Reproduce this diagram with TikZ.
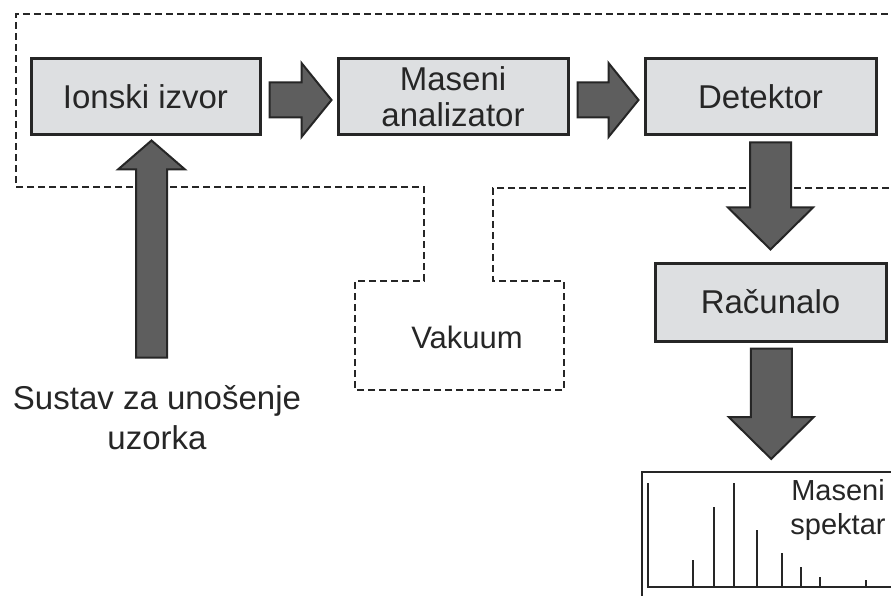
\documentclass[tikz,border=0pt]{standalone}
\usepackage{fontspec}
\setmainfont{Liberation Sans}
\usetikzlibrary{calc}

\definecolor{boxgray}{HTML}{DDDFE1}
\definecolor{arrowgray}{HTML}{5E5E5E}
\definecolor{linegray}{HTML}{262626}

\tikzset{
  unitbox/.style={draw=linegray, line width=3pt, fill=boxgray, minimum width=230pt,
    minimum height=76pt, inner sep=0pt, font=\fontsize{33}{36}\selectfont,
    align=center, text=linegray},
  blockarrow/.style={draw=linegray, line width=2pt, fill=arrowgray, line join=miter},
  vacline/.style={draw=linegray, line width=1.6pt, dash pattern=on 7pt off 4pt},
  peak/.style={draw=linegray, line width=1.4pt}
}

\begin{document}
\begin{tikzpicture}[x=1pt,y=-1pt]
    \useasboundingbox[fill=white] (0,0) rectangle (891,596);

    % vacuum outline
    \draw[vacline] (900,188) -- (493,188) -- (493,281) -- (564,281) -- (564,390)
      -- (355,390) -- (355,281) -- (424,281) -- (424,187) -- (16,187) -- (16,14) -- (900,14);

    \node[unitbox, minimum width=229pt] (ion) at (145.5,97) {Ionski izvor};
    \node[unitbox] (mas) at (453,97) {Maseni\\analizator};
    \node[unitbox, minimum width=231pt] (det) at (760.5,97) {Detektor};
    \node[unitbox, minimum width=231pt, minimum height=78pt] (rac) at (770.5,302) {Računalo};

    \node[draw=linegray, line width=1.5pt, fill=white, minimum width=259pt,
      minimum height=150pt, anchor=north west] (spec) at (641,471) {};
    \node[font=\fontsize{29}{34}\selectfont, align=center, text=linegray] (spectxt) at (838,510) {Maseni\\spektar};

    \node[font=\fontsize{31}{36}\selectfont, text=linegray] (vac) at (467,337) {Vakuum};
    \node[font=\fontsize{33}{40}\selectfont, align=center, text=linegray, inner sep=0pt]
      (sample) at (157,418) {Sustav za unošenje\\uzorka};

    % spectrum
    \draw[linegray, line width=2.6pt] (648,483) -- (648,587) -- (900,587);
    \foreach \x/\h in {693/560, 714/507, 734/483, 757/530, 782/553, 801/567, 820/577, 866/580}
      \draw[peak] (\x,587) -- (\x,\h);

    % arrows
    \draw[blockarrow] let \p1=(sample.north), \p2=(ion.south) in
      (\x2-9.5pt,\y1+28pt) -- (\x2-9.5pt,\y2-33pt) -- (\x2-27.5pt,\y2-33pt) -- (\x2+6pt,\y2-4pt)
      -- (\x2+39.5pt,\y2-33pt) -- (\x2+21.5pt,\y2-33pt) -- (\x2+21.5pt,\y1+28pt) -- cycle;

    \foreach \a/\b in {ion/mas, mas/det}
      \draw[blockarrow] let \p1=(\a.east), \p2=(\b.west) in
        (\x1+8pt,\y1+14.5pt) -- (\x2-35pt,\y1+14.5pt) -- (\x2-35pt,\y1+34pt) -- (\x2-5pt,\y1-3pt)
        -- (\x2-35pt,\y1-40pt) -- (\x2-35pt,\y1-20.5pt) -- (\x1+8pt,\y1-20.5pt) -- cycle;

    \foreach \a/\b in {det/rac, rac/spec}
      \draw[blockarrow] let \p1=(\a.south), \p2=(\b.north) in
        (\x2-20.5pt,\y1-6pt) -- (\x2-20.5pt,\y2+54pt) -- (\x2-42.5pt,\y2+54pt) -- (\x2,\y2+12pt)
        -- (\x2+42.5pt,\y2+54pt) -- (\x2+20.5pt,\y2+54pt) -- (\x2+20.5pt,\y1-6pt) -- cycle;
\end{tikzpicture}
\end{document}
